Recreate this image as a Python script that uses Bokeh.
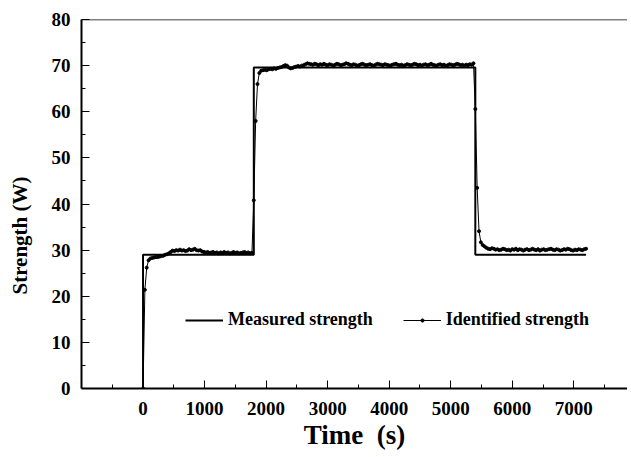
from bokeh.plotting import figure
from bokeh.models import (FixedTicker, Span, Legend, LegendItem, Range1d, Title)
from bokeh.embed import file_html
from bokeh.resources import INLINE

# ---- data ----
measured_time = [0, 0, 1800, 1800, 5400, 5400, 7200]
measured_strength = [0, 29.0, 29.0, 69.6, 69.6, 29.0, 29.0]

sample_time = list(range(0, 7201, 30))
identified_strength = [
    # 0 .. 1770
    0.0, 21.4, 26.2, 27.8, 28.2, 28.3, 28.4, 28.5, 28.5, 28.6,
    28.7, 28.8, 29.0, 29.1, 29.3, 29.6, 29.9, 29.8, 30.0, 29.9,
    30.1, 29.9, 30.0, 29.8, 29.9, 30.2, 30.0, 30.1, 30.3, 30.0,
    29.9, 30.0, 29.7, 29.6, 29.5, 29.6, 29.4, 29.5, 29.6, 29.4,
    29.5, 29.3, 29.5, 29.4, 29.6, 29.4, 29.5, 29.3, 29.4, 29.6,
    29.4, 29.5, 29.3, 29.4, 29.5, 29.6, 29.4, 29.5, 29.3, 29.4,
    # 1800 .. 2970
    40.8, 58.0, 66.0, 68.4, 68.9, 69.0, 69.1, 69.0, 69.2, 69.3,
    69.2, 69.4, 69.3, 69.5, 69.6, 69.7, 69.9, 70.1, 70.0, 69.6,
    69.4, 69.5, 69.7, 69.8, 69.9, 69.8, 70.0, 70.1, 70.3, 70.5,
    70.4, 70.3, 70.2, 70.4, 70.3, 70.1, 70.3, 70.2, 70.4, 70.2,
    # 3000 .. 5370
    70.1, 70.3, 70.2, 70.0, 70.2, 70.4, 70.3, 70.1, 70.2, 70.3,
    70.5, 70.4, 70.2, 70.1, 70.3, 70.2, 70.0, 70.1, 70.3, 70.4,
    70.2, 70.1, 70.2, 70.3, 70.1, 70.0, 70.2, 70.4, 70.3, 70.2,
    70.1, 70.3, 70.2, 70.1, 70.0, 70.2, 70.3, 70.4, 70.2, 70.1,
    70.2, 70.0, 70.1, 70.3, 70.2, 70.1, 70.2, 70.4, 70.3, 70.1,
    70.2, 70.0, 70.2, 70.3, 70.1, 70.2, 70.4, 70.2, 70.1, 70.0,
    70.2, 70.3, 70.1, 70.2, 70.0, 70.1, 70.3, 70.2, 70.1, 70.2,
    70.4, 70.3, 70.1, 70.2, 70.0, 70.2, 70.1, 70.3, 70.2, 70.5,
    # 5400 .. 5610
    60.6, 43.5, 34.1, 31.7, 31.1, 30.8, 30.5, 30.3,
    # 5640 .. 7200
    30.2, 30.4, 30.3, 30.1, 30.2, 30.0, 30.1, 30.3, 30.2, 30.0,
    30.1, 29.9, 30.2, 30.1, 30.3, 30.0, 30.2, 30.1, 29.9, 30.1,
    30.2, 30.0, 30.1, 30.3, 30.1, 30.0, 30.2, 29.9, 30.1, 30.2,
    30.0, 30.1, 30.2, 30.3, 30.1, 30.0, 30.2, 30.1, 29.9, 30.0,
    30.2, 30.1, 30.3, 30.2, 30.0, 29.9, 30.1, 30.0, 30.2, 30.1,
    30.0, 30.2, 30.3,
]
assert len(identified_strength) == len(sample_time)

x_major_ticks = [0, 1000, 2000, 3000, 4000, 5000, 6000, 7000]
x_minor_ticks = [-500, 500, 1500, 2500, 3500, 4500, 5500, 6500, 7500]
y_major_ticks = [0, 10, 20, 30, 40, 50, 60, 70, 80]
y_minor_ticks = [5, 15, 25, 35, 45, 55, 65, 75]

FONT = "Liberation Serif"

p = figure(width=627, height=455, output_backend="svg", toolbar_location=None,
           x_range=Range1d(-1000, 7873), y_range=Range1d(0, 80),
           min_border_left=81, min_border_right=0, min_border_top=19,
           min_border_bottom=67)
p.outline_line_color = None
p.xgrid.visible = False
p.ygrid.visible = False
p.background_fill_color = "white"
p.border_fill_color = "white"

for ax in (p.xaxis[0], p.yaxis[0]):
    ax.axis_line_width = 2
    ax.axis_line_color = "black"
    ax.major_tick_in = 8
    ax.major_tick_out = 0
    ax.minor_tick_in = 4
    ax.minor_tick_out = 0
    ax.major_tick_line_color = "black"
    ax.minor_tick_line_color = "black"
    ax.major_label_text_font = FONT
    ax.major_label_text_font_style = "bold"
    ax.major_label_text_font_size = "19px"
    ax.major_label_text_color = "black"

p.xaxis[0].ticker = FixedTicker(ticks=x_major_ticks, minor_ticks=x_minor_ticks)
p.yaxis[0].ticker = FixedTicker(ticks=y_major_ticks, minor_ticks=y_minor_ticks)
p.xaxis[0].major_label_standoff = 13
p.yaxis[0].major_label_standoff = 11
# invisible spacer label to push the left title outward
p.yaxis[0].axis_label = " "
p.yaxis[0].axis_label_text_font_size = "1px"
p.yaxis[0].axis_label_standoff = 8

# top border
p.add_layout(Span(location=80, dimension="width", line_color="black", line_width=1.5))

r_meas = p.line(measured_time, measured_strength, line_color="black", line_width=2)
r_id_line = p.line(sample_time, identified_strength, line_color="black", line_width=1)
r_id_pts = p.scatter(sample_time, identified_strength, size=3, color="black")

legend = Legend(items=[
    LegendItem(label="Measured strength", renderers=[r_meas]),
    LegendItem(label="Identified strength", renderers=[r_id_line, r_id_pts]),
], orientation="horizontal", location=(104, 58))
legend.border_line_color = None
legend.background_fill_alpha = 0
legend.padding = 0
legend.margin = 0
legend.spacing = 30
legend.glyph_width = 38
legend.glyph_height = 8
legend.label_standoff = 5
legend.label_text_font = FONT
legend.label_text_font_style = "bold"
legend.label_text_font_size = "18px"
legend.label_text_color = "black"
p.add_layout(legend)

p.add_layout(Title(text="Time \u00a0(s)", align="center", standoff=0, text_color="black",
                   text_font=FONT, text_font_style="bold", text_font_size="27px"), "below")
p.add_layout(Title(text="Strength (W)", align="left", offset=94, standoff=10, text_color="black",
                   text_font=FONT, text_font_style="bold", text_font_size="21px"), "left")

open("out.html", "w").write(file_html(p, INLINE))
